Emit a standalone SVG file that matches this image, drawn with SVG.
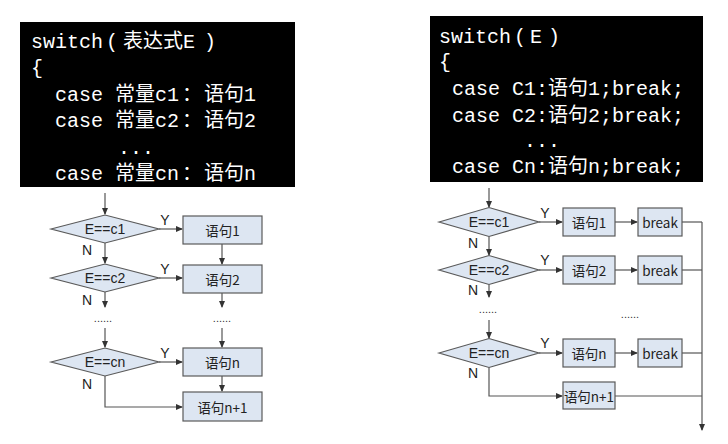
<svg xmlns="http://www.w3.org/2000/svg" width="728" height="444" viewBox="0 0 728 444">
<style>
.code{font-family:"Liberation Mono","Noto Sans CJK SC",monospace;font-size:20px;fill:#fff}
.box{fill:#000}
.dia{fill:#dde6f2;stroke:#5a5a5a;stroke-width:1.2}
.rec{fill:#dde6f2;stroke:#5a5a5a;stroke-width:1.2}
.lbl{font-family:"Noto Sans CJK SC","Liberation Sans",sans-serif;font-size:13.5px;fill:#222;text-anchor:middle;dominant-baseline:central}
.dl{font-family:"Liberation Sans","Noto Sans CJK SC",sans-serif;font-size:14px;fill:#222;text-anchor:middle;dominant-baseline:central}
.yn{font-family:"Liberation Sans","Noto Sans CJK SC",sans-serif;font-size:14px;fill:#222;text-anchor:middle}
.dots{font-family:"Liberation Sans",sans-serif;font-size:11px;fill:#333;text-anchor:middle}
.ln{fill:none;stroke:#555;stroke-width:1.2}
.ar{fill:none;stroke:#555;stroke-width:1.2;marker-end:url(#ah)}
</style>
<defs>
<marker id="ah" markerWidth="7" markerHeight="6" refX="6" refY="3" orient="auto" markerUnits="userSpaceOnUse">
<path d="M0,0 L7,3 L0,6 z" fill="#333"/>
</marker>
</defs>
<rect width="728" height="444" fill="#fff"/>

<g id="code-left">
<rect class="box" x="20" y="22" width="275" height="165"/>
<text class="code" x="31" y="48">switch<tspan x="106">(</tspan><tspan x="123">表达式E</tspan><tspan x="204">)</tspan></text>
<text class="code" x="31" y="74">{</text>
<text class="code" x="55" y="101">case 常量c1<tspan x="182">：</tspan><tspan x="204">语句1</tspan></text>
<text class="code" x="55" y="127">case 常量c2<tspan x="182">：</tspan><tspan x="204">语句2</tspan></text>
<text class="code" x="118" y="154">...</text>
<text class="code" x="55" y="180">case 常量cn<tspan x="182">：</tspan><tspan x="204">语句n</tspan></text>
</g>

<g id="code-right">
<rect class="box" x="430" y="16" width="273" height="166"/>
<text class="code" x="439" y="43">switch<tspan x="514">(</tspan><tspan x="530">E</tspan><tspan x="548">)</tspan></text>
<text class="code" x="439" y="68">{</text>
<text class="code" x="452" y="95">case C1:语句1;break;</text>
<text class="code" x="452" y="122">case C2:语句2;break;</text>
<text class="code" x="524" y="147">...</text>
<text class="code" x="452" y="173">case Cn:语句n;break;</text>
</g>

<!-- Left flowchart connectors -->
<g id="connectors-left">
<path class="ar" d="M105,193 V214"/>
<path class="ar" d="M159,229 H182"/>
<path class="ar" d="M222,244 V264"/>
<path class="ar" d="M105,243 V263"/>
<path class="ar" d="M159,278 H182"/>
<path class="ar" d="M105,292 V307"/>
<path class="ar" d="M222,293 V307"/>
<path class="ar" d="M105,328 V347"/>
<path class="ar" d="M222,328 V347"/>
<path class="ar" d="M159,362 H182"/>
<path class="ar" d="M222,376 V391"/>
<path class="ar" d="M105,376 V407 H182"/>
<text class="yn" x="165" y="225">Y</text>
<text class="yn" x="87" y="255">N</text>
<text class="yn" x="165" y="274">Y</text>
<text class="yn" x="87" y="305">N</text>
<text class="yn" x="165" y="358">Y</text>
<text class="yn" x="87" y="389">N</text>
<text class="dots" x="103" y="322">......</text>
<text class="dots" x="222" y="322">......</text>
</g>

<g id="L-d1"><polygon class="dia" points="51,229 105,215 159,229 105,243"/><text class="dl" x="105" y="229">E==c1</text></g>
<g id="L-d2"><polygon class="dia" points="51,278 105,264 159,278 105,292"/><text class="dl" x="105" y="278">E==c2</text></g>
<g id="L-dn"><polygon class="dia" points="51,362 105,348 159,362 105,376"/><text class="dl" x="105" y="362">E==cn</text></g>
<g id="L-r1"><rect class="rec" x="183" y="216" width="79" height="28"/><text class="lbl" x="222.5" y="230">语句1</text></g>
<g id="L-r2"><rect class="rec" x="183" y="265" width="79" height="28"/><text class="lbl" x="222.5" y="279">语句2</text></g>
<g id="L-rn"><rect class="rec" x="183" y="348" width="79" height="28"/><text class="lbl" x="222.5" y="362">语句n</text></g>
<g id="L-rn1"><rect class="rec" x="183" y="392" width="79" height="29"/><text class="lbl" x="222.5" y="406.5">语句n+1</text></g>

<!-- Right flowchart connectors -->
<g id="connectors-right">
<path class="ar" d="M489,188 V207"/>
<path class="ar" d="M539,222 H562"/>
<path class="ar" d="M615,222 H637"/>
<path class="ln" d="M682,222 H702"/>
<path class="ar" d="M489,236.5 V255"/>
<path class="ar" d="M539,270 H562"/>
<path class="ar" d="M615,270 H637"/>
<path class="ln" d="M682,270 H702"/>
<path class="ar" d="M489,284.5 V297"/>
<path class="ar" d="M489,320 V338"/>
<path class="ar" d="M539,353 H562"/>
<path class="ar" d="M615,353 H637"/>
<path class="ln" d="M682,353 H702"/>
<path class="ar" d="M489,367.5 V396 H562"/>
<path class="ln" d="M615,396 H702"/>
<path class="ar" d="M702,222 V430"/>
<text class="yn" x="545" y="218">Y</text>
<text class="yn" x="473" y="248">N</text>
<text class="yn" x="545" y="265">Y</text>
<text class="yn" x="473" y="295">N</text>
<text class="yn" x="545" y="348">Y</text>
<text class="yn" x="473" y="378">N</text>
<text class="dots" x="488" y="313">......</text>
<text class="dots" x="630" y="318">......</text>
</g>

<g id="R-d1"><polygon class="dia" points="439,222 489,207.5 539,222 489,236.5"/><text class="dl" x="489" y="222">E==c1</text></g>
<g id="R-d2"><polygon class="dia" points="439,270 489,255.5 539,270 489,284.5"/><text class="dl" x="489" y="270">E==c2</text></g>
<g id="R-dn"><polygon class="dia" points="439,353 489,338.5 539,353 489,367.5"/><text class="dl" x="489" y="353">E==cn</text></g>
<g id="R-r1"><rect class="rec" x="563" y="208" width="52" height="28"/><text class="lbl" x="589" y="222">语句1</text></g>
<g id="R-b1"><rect class="rec" x="638" y="208" width="44" height="28"/><text class="lbl" x="660" y="222">break</text></g>
<g id="R-r2"><rect class="rec" x="563" y="256" width="52" height="28"/><text class="lbl" x="589" y="270">语句2</text></g>
<g id="R-b2"><rect class="rec" x="638" y="256" width="44" height="28"/><text class="lbl" x="660" y="270">break</text></g>
<g id="R-rn"><rect class="rec" x="563" y="339" width="52" height="28"/><text class="lbl" x="589" y="353">语句n</text></g>
<g id="R-bn"><rect class="rec" x="638" y="339" width="44" height="28"/><text class="lbl" x="660" y="353">break</text></g>
<g id="R-rn1"><rect class="rec" x="563" y="382" width="52" height="27"/><text class="lbl" x="589" y="395.5">语句n+1</text></g>
</svg>
